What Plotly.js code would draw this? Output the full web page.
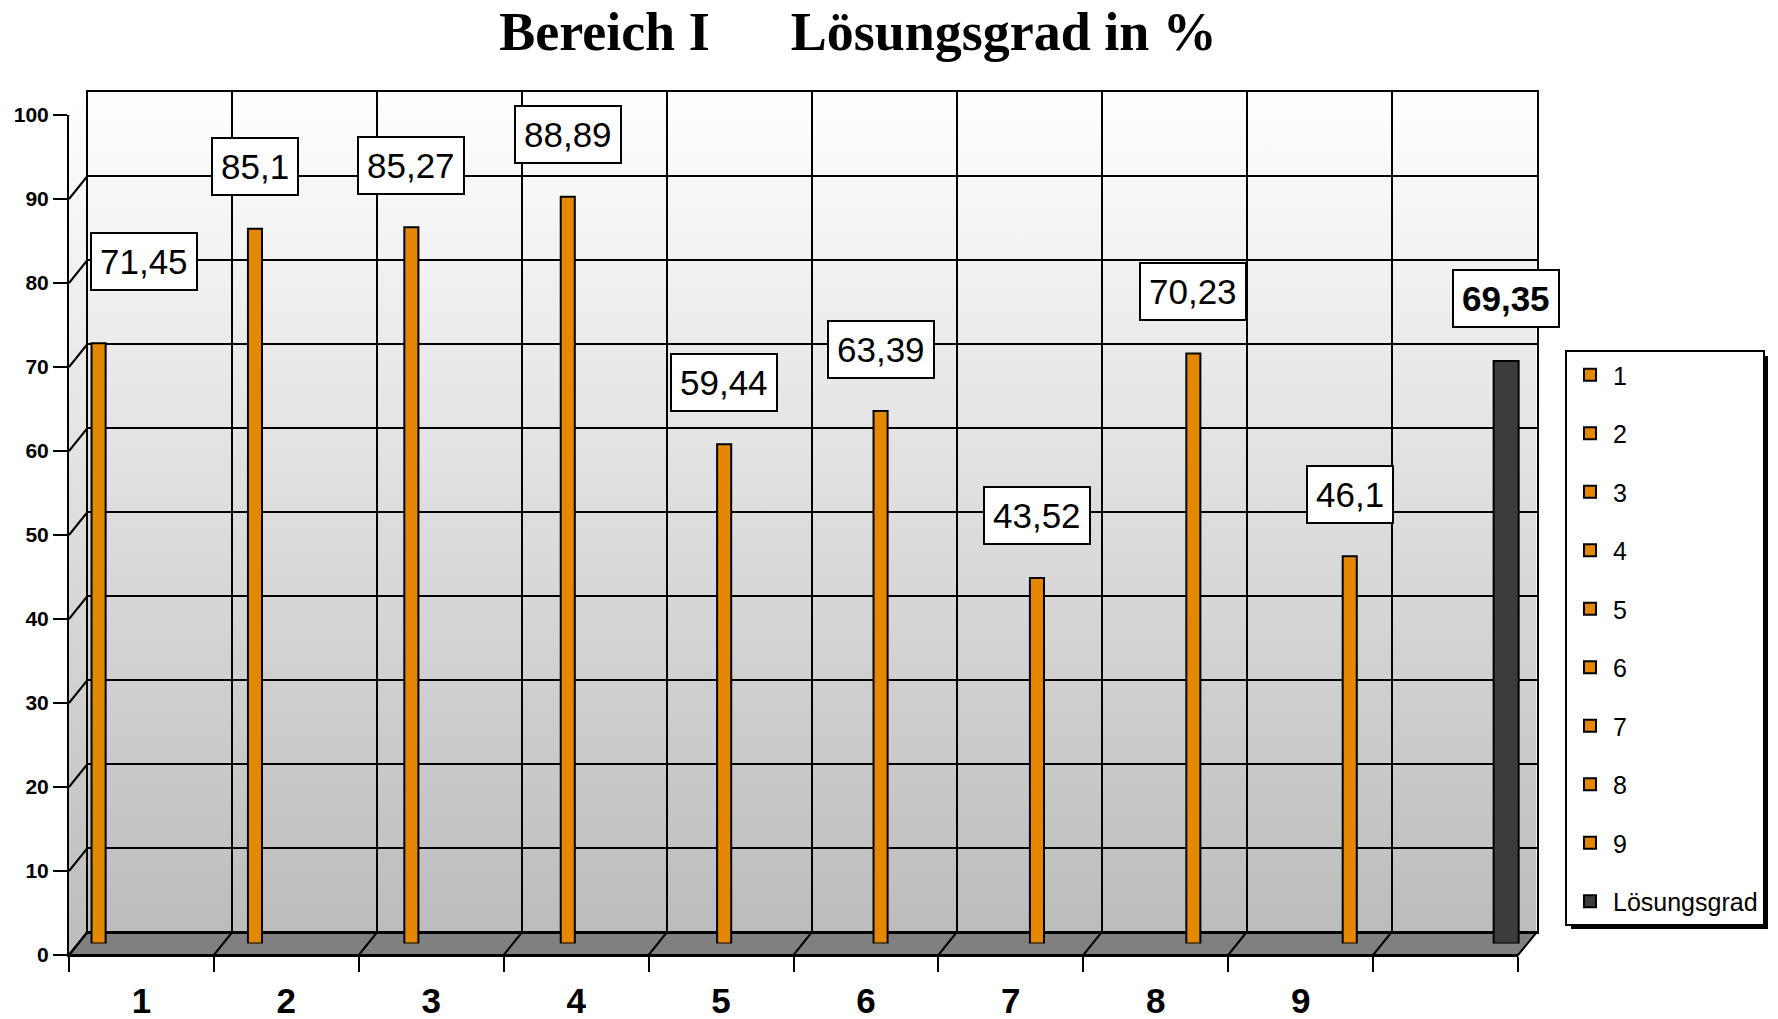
<!DOCTYPE html>
<html>
<head>
<meta charset="utf-8">
<script src="https://cdn.plot.ly/plotly-3.0.1.min.js"></script>
<style>html,body{margin:0;padding:0;background:#fff;}#chart{width:1778px;height:1019px;}</style>
</head>
<body>
<div id="chart"></div>
<script>
// ---- data ----
const seriesNames = ["1", "2", "3", "4", "5", "6", "7", "8", "9", "Lösungsgrad"];
const values = [71.45, 85.1, 85.27, 88.89, 59.44, 63.39, 43.52, 70.23, 46.1, 69.35];
const xTickLabels = ["1", "2", "3", "4", "5", "6", "7", "8", "9"];
const yTickValues = [0, 10, 20, 30, 40, 50, 60, 70, 80, 90, 100];
const titleText = "Bereich I\u00a0\u00a0\u00a0\u00a0\u00a0\u00a0Lösungsgrad in %";

// ---- geometry (pixels) ----
const W = 1468, H = 863;      // total plot region (front + depth)
const FW = 1449, FH = 840;    // front plane size
const DX = 18.5, DY = 23;     // 3D depth offset
const nCat = seriesNames.length;

const orange = "#e38800";
const totalColor = "#3c3c3c";

const traces = [
  {type: "scatter", x: [], y: [], xaxis: "x", yaxis: "y", showlegend: false, hoverinfo: "skip"},
  {type: "scatter", x: [], y: [], xaxis: "x2", yaxis: "y2", showlegend: false, hoverinfo: "skip"}
];
seriesNames.forEach((name, i) => {
  const isTotal = i === nCat - 1;
  traces.push({
    type: "bar",
    name: name,
    x: [name],
    y: [values[i]],
    xaxis: "x3",
    yaxis: "y3",
    width: isTotal ? 0.16 : 0.09,
    legendgroup: "g" + i,
    marker: {color: isTotal ? totalColor : orange, line: {color: "#000", width: 2}},
    hoverinfo: "skip"
  });
});

const fmt = v => String(v).replace(".", ",");
const annotations = seriesNames.map((name, i) => ({
  xref: "x3", yref: "y3", x: i, y: values[i],
  text: i === nCat - 1 ? "<b>" + fmt(values[i]) + "</b>" : fmt(values[i]),
  showarrow: false,
  xshift: i === 0 ? 45 : 0,
  yshift: i === 0 ? 82 : 62,
  font: {family: "Liberation Sans, Arial", size: 35, color: "#000"},
  bgcolor: "#fff", bordercolor: "#000", borderwidth: 2, borderpad: 8
}));

const boundaries = [];
for (let b = 0; b <= nCat; b++) boundaries.push(b);
const tickCenters = xTickLabels.map((_, i) => i + 0.5);

const shapes = [];
// floor
shapes.push({
  type: "path", xref: "paper", yref: "paper", layer: "below",
  path: `M 0 0 L ${FW / W} 0 L 1 ${DY / H} L ${DX / W} ${DY / H} Z`,
  fillcolor: "#808080", line: {color: "#000", width: 2}
});
// floor diagonals
boundaries.forEach(b => shapes.push({
  type: "line", xref: "x", yref: "paper", xsizemode: "pixel", xanchor: b,
  x0: 0, x1: DX, y0: 0, y1: DY / H, line: {color: "#000", width: 2}, layer: "above"
}));
// left-wall diagonals
yTickValues.forEach(v => shapes.push({
  type: "line", xref: "paper", yref: "y", ysizemode: "pixel", yanchor: v,
  x0: 0, x1: DX / W, y0: 0, y1: DY, line: {color: "#000", width: 2}, layer: "above"
}));
// legend shadow
shapes.push({
  type: "rect", xref: "paper", yref: "paper", layer: "below",
  x0: (1571 - 69) / W, x1: (1768 - 69) / W, y0: (955 - 929) / H, y1: (955 - 356) / H,
  fillcolor: "#000", line: {width: 0}
});

const grad = "<linearGradient id='g' x1='0' y1='0' x2='0' y2='1'><stop offset='0' stop-color='#ffffff'/><stop offset='1' stop-color='#bcbcbc'/></linearGradient>";
const backSvg = "<svg xmlns='http://www.w3.org/2000/svg' viewBox='0 0 100 100' preserveAspectRatio='none' width='100' height='100'><defs>" + grad + "</defs><rect width='100' height='100' fill='url(#g)'/></svg>";
const leftSvg = "<svg xmlns='http://www.w3.org/2000/svg' viewBox='0 0 100 100' preserveAspectRatio='none' width='100' height='100'><defs>" + grad + "</defs><polygon points='0,100 0," + (DY / H * 100) + " 100,0 100," + (FH / H * 100) + "' fill='url(#g)'/></svg>";
const toUri = s => "data:image/svg+xml;charset=utf-8," + encodeURIComponent(s);

const axisBase = {zeroline: false, showgrid: false, fixedrange: true};

const layout = {
  width: 1778, height: 1019,
  margin: {l: 69, r: 1778 - 69 - W, t: 92, b: 1019 - 92 - H, pad: 0},
  paper_bgcolor: "#fff", plot_bgcolor: "rgba(0,0,0,0)",
  barmode: "overlay",
  title: {
    text: "<b>" + titleText + "</b>",
    font: {family: "Liberation Serif, Times New Roman", size: 54, color: "#000"},
    x: 858 / 1778, xanchor: "center", xref: "container",
    y: 1 - 31 / 1019, yanchor: "middle", yref: "container"
  },
  xaxis: Object.assign({}, axisBase, {
    domain: [0, FW / W], range: [0, nCat], anchor: "y",
    tickmode: "array", tickvals: tickCenters, ticktext: xTickLabels, ticks: "",
    tickfont: {family: "Liberation Sans, Arial", size: 35, color: "#000", weight: "bold"},
    ticklabelstandoff: 14,
    minor: {tickmode: "array", tickvals: boundaries, ticks: "outside", ticklen: 15, tickwidth: 2, tickcolor: "#000", showgrid: false},
    showline: true, linecolor: "#000", linewidth: 2
  }),
  yaxis: Object.assign({}, axisBase, {
    domain: [0, FH / H], range: [0, 100], anchor: "x",
    tickmode: "array", tickvals: yTickValues, ticks: "outside", ticklen: 14, tickwidth: 2, tickcolor: "#000",
    tickfont: {family: "Liberation Sans, Arial", size: 21, color: "#000", weight: "bold"},
    showline: true, linecolor: "#000", linewidth: 2
  }),
  xaxis2: Object.assign({}, axisBase, {
    domain: [DX / W, 1], range: [0, nCat], anchor: "y2",
    tickmode: "array", tickvals: boundaries, showgrid: true, gridcolor: "#000", gridwidth: 2,
    showticklabels: false, ticks: "", showline: true, mirror: true, linecolor: "#000", linewidth: 2
  }),
  yaxis2: Object.assign({}, axisBase, {
    domain: [DY / H, 1], range: [0, 100], anchor: "x2",
    tickmode: "array", tickvals: yTickValues, showgrid: true, gridcolor: "#000", gridwidth: 2,
    showticklabels: false, ticks: "", showline: true, mirror: true, linecolor: "#000", linewidth: 2
  }),
  xaxis3: Object.assign({}, axisBase, {
    domain: [DX / 2 / W, (FW + DX / 2) / W], type: "category", categoryorder: "array", categoryarray: seriesNames,
    range: [-0.13, 9.135], anchor: "y3", visible: false
  }),
  yaxis3: Object.assign({}, axisBase, {
    domain: [DY / 2 / H, (FH + DY / 2) / H], range: [0, 100], anchor: "x3", visible: false
  }),
  legend: {
    x: (1565 - 69) / W, y: (955 - 350) / H, xanchor: "left", yanchor: "top",
    bgcolor: "#fff", bordercolor: "#000", borderwidth: 2,
    font: {family: "Liberation Sans, Arial", size: 25, color: "#000"},
    traceorder: "grouped", tracegroupgap: 23, itemwidth: 36
  },
  images: [
    {source: toUri(backSvg), xref: "paper", yref: "paper", x: DX / W, y: 1, sizex: FW / W, sizey: FH / H,
     xanchor: "left", yanchor: "top", sizing: "stretch", layer: "below"},
    {source: toUri(leftSvg), xref: "paper", yref: "paper", x: 0, y: 1, sizex: DX / W, sizey: 1,
     xanchor: "left", yanchor: "top", sizing: "stretch", layer: "below"}
  ],
  shapes: shapes,
  annotations: annotations,
  showlegend: true
};

Plotly.newPlot("chart", traces, layout, {displayModeBar: false, staticPlot: true});
</script>
</body>
</html>
